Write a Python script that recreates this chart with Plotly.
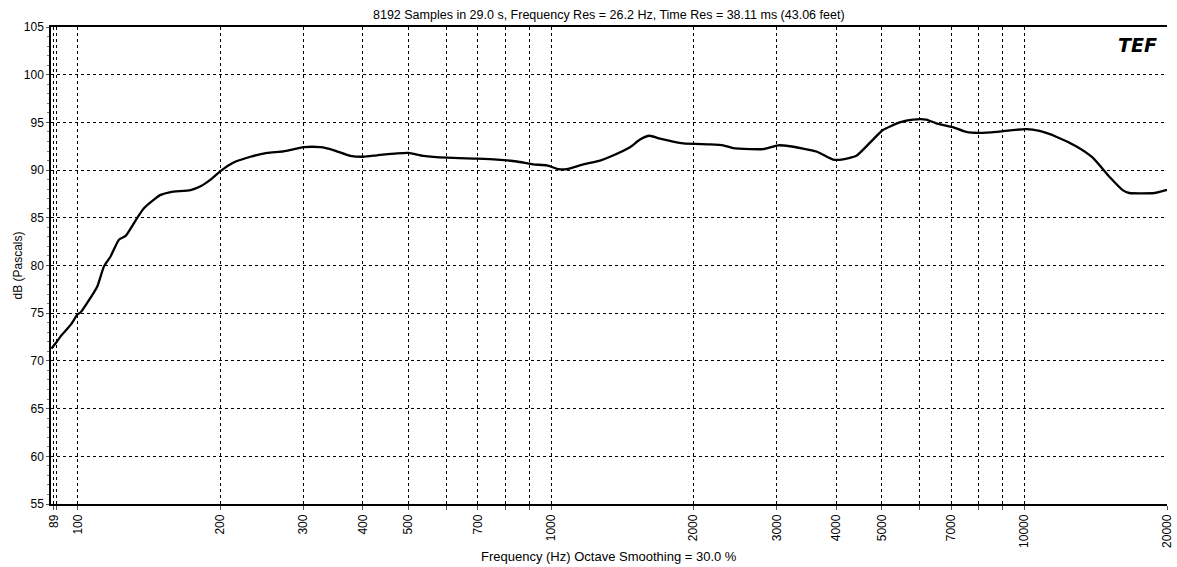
import plotly.graph_objects as go

# Frequency response
freq_hz = [88.0, 89.0, 90.0, 92.1, 96.7, 100.0, 101.5, 104.8, 110.0, 113.6, 117.4, 122.2, 126.3,
           133.6, 138.0, 144.9, 149.7, 157.1, 173.1, 181.8, 190.8, 200.3, 213.4, 231.7,
           251.3, 272.0, 300.2, 325.6, 346.7, 376.6, 401.1, 428.9, 472.7, 500.0, 537.9,
           602.6, 696.8, 768.1, 846.6, 916.2, 979.3, 1036, 1079, 1170, 1269, 1332, 1468,
           1541, 1613, 1698, 1902, 2165, 2310, 2424, 2630, 2805, 3017, 3193, 3635, 3941,
           4106, 4415, 4786, 5023, 5449, 5813, 6203, 6512, 7059, 7534, 8035, 8717, 9448,
           10083, 10755, 11667, 12853, 13937, 15113, 16125, 16657, 18807, 19901, 20000]
level_db = [71.3, 71.6, 71.9, 72.6, 73.8, 74.9, 75.1, 76.1, 77.8, 79.9, 80.97, 82.7, 83.1,
            85.0, 86.0, 86.9, 87.4, 87.7, 87.9, 88.3, 89.0, 89.9, 90.8, 91.4,
            91.8, 91.96, 92.4, 92.4, 92.1, 91.5, 91.4, 91.55, 91.75, 91.8, 91.5,
            91.3, 91.2, 91.1, 90.9, 90.6, 90.5, 90.1, 90.1, 90.6, 91.0, 91.4, 92.4,
            93.2, 93.6, 93.3, 92.8, 92.7, 92.6, 92.3, 92.2, 92.2, 92.6, 92.5, 91.95, 91.1,
            91.1, 91.5, 93.2, 94.2, 95.0, 95.3, 95.3, 94.9, 94.5, 94.0, 93.9, 94.0, 94.2,
            94.3, 94.1, 93.5, 92.5, 91.3, 89.3, 87.9, 87.6, 87.6, 87.9, 87.9]

x_tick_vals = [89, 90, 100, 200, 300, 400, 500, 600, 700, 800, 900, 1000,
               2000, 3000, 4000, 5000, 6000, 7000, 8000, 9000, 10000, 20000]
x_tick_text = ["89", "", "100", "200", "300", "400", "500", "", "700", "", "", "1000",
               "2000", "3000", "4000", "5000", "", "7000", "", "", "10000", "20000"]
y_tick_vals = [55, 60, 65, 70, 75, 80, 85, 90, 95, 100, 105]

title_text = "8192 Samples in 29.0 s, Frequency Res = 26.2 Hz, Time Res = 38.11 ms (43.06 feet)"
x_title = "Frequency (Hz) Octave Smoothing = 30.0 %"
y_title = "dB (Pascals)"

FONT = "Liberation Sans, Arial, sans-serif"

fig = go.Figure()
fig.add_trace(go.Scatter(x=freq_hz, y=level_db, mode="lines",
                         line=dict(color="black", width=2.3, shape="spline", smoothing=0.5),
                         hoverinfo="x+y", showlegend=False))

fig.update_layout(
    width=1177, height=567,
    margin=dict(l=51, r=10, t=27, b=63, autoexpand=False),
    paper_bgcolor="white", plot_bgcolor="white",
    font=dict(family=FONT, size=12, color="black"),
    showlegend=False,
)

fig.update_xaxes(
    type="log", range=[1.9436, 4.30103], automargin=False,
    tickvals=x_tick_vals, ticktext=x_tick_text, tickangle=-90,
    ticks="outside", ticklen=4, tickcolor="#555", tickwidth=1,
    showgrid=True, gridcolor="black", gridwidth=1, griddash="3px,3px",
    showline=True, linecolor="black", linewidth=1.5, mirror=True,
    zeroline=False, tickfont=dict(family=FONT, size=12, color="black"),
)
fig.update_yaxes(
    range=[55, 105], tickvals=y_tick_vals, automargin=False,
    ticks="outside", ticklen=3, tickcolor="#555",
    showgrid=True, gridcolor="black", gridwidth=1, griddash="3px,3px",
    showline=True, linecolor="black", linewidth=1.5,
    zeroline=False, tickfont=dict(family=FONT, size=12, color="black"),
    minor=dict(dtick=1, ticks="outside", ticklen=2, tickcolor="#777", showgrid=False),
)

fig.add_annotation(text=title_text, xref="paper", yref="paper", x=0.5, y=1,
                   yshift=3, yanchor="bottom", showarrow=False,
                   font=dict(family=FONT, size=12.5, color="black"))
fig.add_annotation(text=x_title, xref="paper", yref="paper", x=0.5, y=0,
                   yshift=-43, yanchor="top", showarrow=False,
                   font=dict(family=FONT, size=13, color="black"))
fig.add_annotation(text=y_title, xref="paper", yref="paper", x=0, y=0.5,
                   xshift=-34, xanchor="center", yanchor="middle", textangle=-90,
                   showarrow=False, font=dict(family=FONT, size=12, color="black"))
fig.add_annotation(text="<b><i>TEF</i></b>", xref="paper", yref="paper", x=0.993, y=0.99,
                   xanchor="right", yanchor="top", showarrow=False,
                   font=dict(family="DejaVu Sans", size=19, color="black"))

fig.write_html("out.html", config={"displayModeBar": False},
               post_script="document.body.style.margin='0';document.body.style.overflow='hidden';")
